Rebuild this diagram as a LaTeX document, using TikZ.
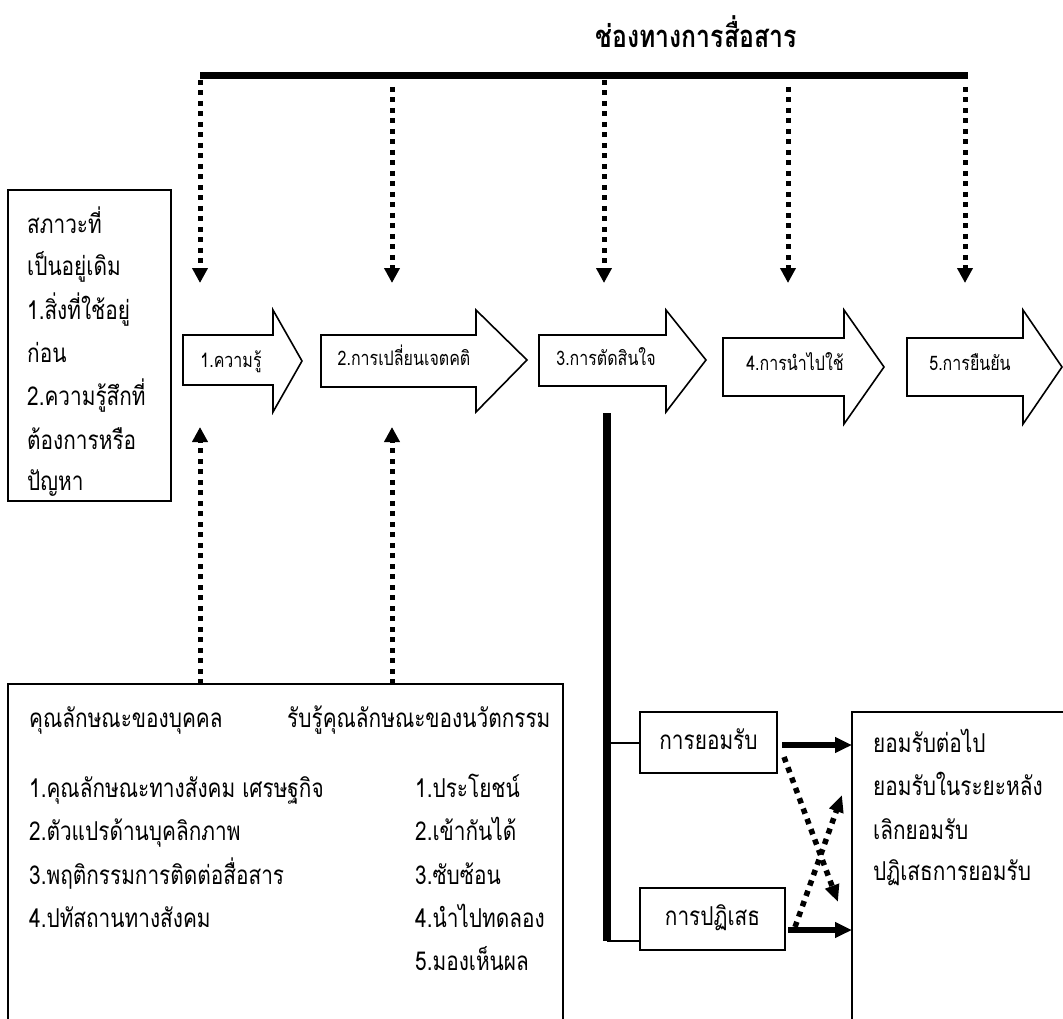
\documentclass[tikz,border=0pt]{standalone}
\usepackage{fontspec}
\newfontfamily\thai[Script=Thai,FakeStretch=0.8]{Loma}
\usetikzlibrary{arrows.meta}
\tikzset{
  ln/.style={line width=1.6pt},
  dotarrow/.style={line width=5pt, dash pattern=on 5pt off 5.5pt, -{Triangle[width=15pt,length=15pt]}},
  dotarrowb/.style={line width=5.5pt, dash pattern=on 5.5pt off 5.5pt, -{Triangle[width=14pt,length=17pt]}},
  bodytext/.style={font=\thai\fontsize{26}{30}\selectfont, anchor=base west, inner sep=0pt},
  labtext/.style={font=\thai\fontsize{20}{24}\selectfont, text height=10.4pt, text depth=0pt, inner sep=0pt},
  bigarrow/.style={draw, line width=1.6pt, fill=white, line join=miter},
  boxnode/.style={draw, line width=1.6pt, font=\thai\fontsize{26}{30}\selectfont, text height=13.5pt, text depth=0pt, inner sep=0pt},
  thickarrow/.style={line width=5.5pt, -{Triangle[width=15pt,length=17pt]}},
}
\begin{document}
\begin{tikzpicture}[x=1pt,y=-1pt]
\useasboundingbox (0,0) rectangle (1063,1019);
\clip (0,0) rectangle (1063,1019);
\fill[white] (0,0) rectangle (1063,1019);

% title and channel bar
\node[font=\thai\bfseries\fontsize{31}{36}\selectfont, inner sep=0pt, text height=16pt, text depth=0pt] (title) at (696,40) {ช่องทางการสื่อสาร};
\coordinate (bl) at (200,76);
\coordinate (br) at (968,76);
\draw[line width=7pt] (bl) -- (br);

% big process arrows
\draw[bigarrow] (183,335) -- (273,335) -- (273,310) -- (302,361) -- (273,412) -- (273,385) -- (183,385) -- cycle;
\draw[bigarrow] (321,335) -- (476,335) -- (476,310) -- (527,360) -- (476,412) -- (476,387) -- (321,387) -- cycle;
\draw[bigarrow] (539,335) -- (666,335) -- (666,310) -- (706,360) -- (666,412) -- (666,386) -- (539,386) -- cycle;
\draw[bigarrow] (723,338) -- (844,338) -- (844,310) -- (884,367) -- (844,424) -- (844,396) -- (723,396) -- cycle;
\draw[bigarrow] (907,338) -- (1023,338) -- (1023,310) -- (1062,367) -- (1023,424) -- (1023,396) -- (907,396) -- cycle;

\node[labtext] (lab1) at (231,362) {1.ความรู้};
\node[labtext] (lab2) at (404,360) {2.การเปลี่ยนเจตคติ};
\node[labtext] (lab3) at (606,360) {3.การตัดสินใจ};
\node[labtext] (lab4) at (795,365) {4.การนำไปใช้};
\node[labtext] (lab5) at (970,365) {5.การยืนยัน};

% channel dotted arrows
\coordinate (s1) at (200,80);  \coordinate (t1) at (200,283);
\coordinate (s2) at (392,87);  \coordinate (t2) at (392,283);
\coordinate (s3) at (604,80);  \coordinate (t3) at (604,283);
\coordinate (s4) at (788,87);  \coordinate (t4) at (788,283);
\coordinate (s5) at (965,87);  \coordinate (t5) at (965,283);
\draw[dotarrow] (s1) -- (t1);
\draw[dotarrow] (s2) -- (t2);
\draw[dotarrow] (s3) -- (t3);
\draw[dotarrow] (s4) -- (t4);
\draw[dotarrow] (s5) -- (t5);

% left box
\node[draw, ln, minimum width=163pt, minimum height=311pt, inner sep=0pt] (prior) at (89.5,345.5) {};
\node[bodytext] (p1) at (27,234) {สภาวะที่};
\node[bodytext] (p2) at (27,275) {เป็นอยู่เดิม};
\node[bodytext] (p3) at (27,319) {1.สิ่งที่ใช้อยู่};
\node[bodytext] (p4) at (27,362) {ก่อน};
\node[bodytext] (p5) at (27,405) {2.ความรู้สึกที่};
\node[bodytext] (p6) at (27,449) {ต้องการหรือ};
\node[bodytext] (p7) at (27,490) {ปัญหา};

% bottom-left box (open at bottom)
\coordinate (bb1) at (8,1030);
\coordinate (bb2) at (8,684);
\coordinate (bb3) at (563,684);
\coordinate (bb4) at (563,1030);
\draw[ln] (bb1) -- (bb2) -- (bb3) -- (bb4);
\coordinate (u1) at (200,684); \coordinate (v1) at (200,427);
\coordinate (u2) at (392,684); \coordinate (v2) at (392,427);
\draw[dotarrow] (u1) -- (v1);
\draw[dotarrow] (u2) -- (v2);

\node[bodytext] (h1) at (29,727) {คุณลักษณะของบุคคล};
\node[bodytext] (h2) at (287,727) {รับรู้คุณลักษณะของนวัตกรรม};
\node[bodytext] (a1) at (29,797) {1.คุณลักษณะทางสังคม เศรษฐกิจ};
\node[bodytext] (a2) at (29,840) {2.ตัวแปรด้านบุคลิกภาพ};
\node[bodytext] (a3) at (29,884) {3.พฤติกรรมการติดต่อสื่อสาร};
\node[bodytext] (a4) at (29,927) {4.ปทัสถานทางสังคม};
\node[bodytext] (b1) at (415,797) {1.ประโยชน์};
\node[bodytext] (b2) at (415,840) {2.เข้ากันได้};
\node[bodytext] (b3) at (415,884) {3.ซับซ้อน};
\node[bodytext] (b4) at (415,927) {4.นำไปทดลอง};
\node[bodytext] (b5) at (415,970) {5.มองเห็นผล};

% decision branch
\coordinate (vt) at (607,413);
\coordinate (vb) at (607,941);
\draw[line width=7.5pt] (vt) -- (vb);
\node[boxnode, minimum width=137pt, minimum height=61pt] (acc) at (708.5,742.5) {การยอมรับ};
\node[boxnode, minimum width=145pt, minimum height=62pt] (rej) at (712.5,919) {การปฏิเสธ};
\coordinate (va) at (607,743);
\draw[ln] (va) -- (va -| acc.west);
\draw[ln] (vb) -- (vb -| rej.west);

% right box (open right and bottom)
\coordinate (rb1) at (852,1030);
\coordinate (rb2) at (852,712);
\coordinate (rb3) at (1075,712);
\draw[ln] (rb1) -- (rb2) -- (rb3);
\node[bodytext] (r1) at (873,752) {ยอมรับต่อไป};
\node[bodytext] (r2) at (873,795) {ยอมรับในระยะหลัง};
\node[bodytext] (r3) at (873,839) {เลิกยอมรับ};
\node[bodytext] (r4) at (873,880) {ปฏิเสธการยอมรับ};

% outcome arrows
\coordinate (o1s) at (782,745); \coordinate (o1e) at (852,745);
\coordinate (o2s) at (788,930); \coordinate (o2e) at (852,930);
\draw[thickarrow] (o1s) -- (o1e);
\draw[thickarrow] (o2s) -- (o2e);
\coordinate (d1s) at (784,757); \coordinate (d1e) at (838,902);
\coordinate (d2s) at (795,927); \coordinate (d2e) at (842,795);
\draw[dotarrowb] (d1s) -- (d1e);
\draw[dotarrowb] (d2s) -- (d2e);
\end{tikzpicture}
\end{document}
